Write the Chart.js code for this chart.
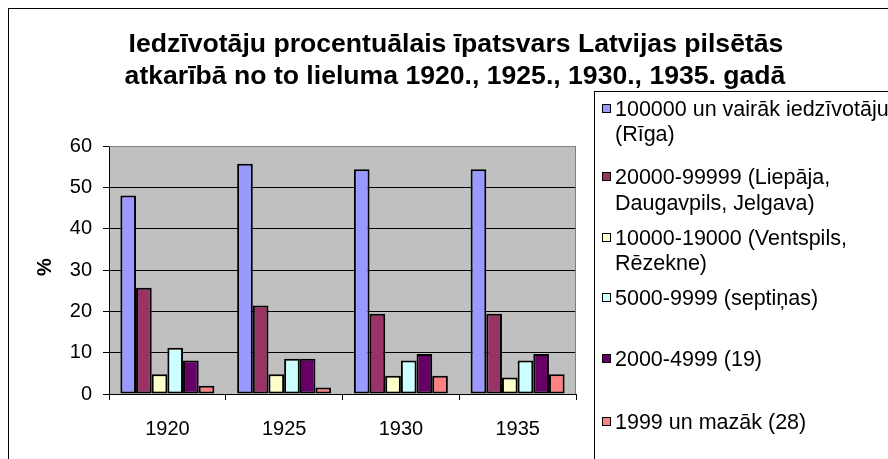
<!DOCTYPE html>
<html>
<head>
<meta charset="utf-8">
<script src="https://cdn.jsdelivr.net/npm/chart.js@4.4.1/dist/chart.umd.min.js"></script>
<style>
  html, body { margin: 0; padding: 0; background: #fff; overflow: hidden; }
  #wrap { width: 888px; height: 459px; position: relative; }
</style>
</head>
<body>
<div id="wrap"><canvas id="c" width="888" height="459"></canvas></div>
<script>
const titleLines = ['Iedzīvotāju procentuālais īpatsvars Latvijas pilsētās',
                    'atkarībā no to lieluma 1920., 1925., 1930., 1935. gadā'];
const yAxisTitle = '%';
const categories = ['1920', '1925', '1930', '1935'];
const yTicks = [0, 10, 20, 30, 40, 50, 60];

const seriesNames = [
  ['100000 un vairāk iedzīvotāju', '(Rīga)'],
  ['20000-99999 (Liepāja,', 'Daugavpils, Jelgava)'],
  ['10000-19000 (Ventspils,', 'Rēzekne)'],
  ['5000-9999 (septiņas)'],
  ['2000-4999 (19)'],
  ['1999 un mazāk (28)']
];
const seriesColors = ['#9999FF', '#993366', '#FFFFCC', '#CCFFFF', '#660066', '#FF8080'];

const rigaValues      = [48.0, 55.7, 54.4, 54.4];
const bigCityValues   = [25.7, 21.4, 19.4, 19.4];
const midCityValues   = [4.8, 4.8, 4.4, 4.0];
const smallCityValues = [11.2, 8.5, 8.1, 8.1];
const townValues      = [8.1, 8.5, 9.7, 9.7];
const tinyTownValues  = [2.0, 1.6, 4.4, 4.8];
const seriesValues = [rigaValues, bigCityValues, midCityValues, smallCityValues, townValues, tinyTownValues];

const FONT = '"Liberation Sans", Arial, sans-serif';
Chart.defaults.font.family = FONT;
Chart.defaults.color = '#000';

const PLOT = { left: 109, right: 576, top: 146, bottom: 394 };
const W = 888, H = 459;

const framePlugin = {
  id: 'frame',
  beforeDraw(chart) {
    const ctx = chart.ctx, a = chart.chartArea;
    ctx.save();
    ctx.fillStyle = '#fff';
    ctx.fillRect(0, 0, W, H);
    ctx.strokeStyle = '#000';
    ctx.lineWidth = 1;
    ctx.strokeRect(8.5, 8.5, W + 20, H + 20);
    ctx.fillStyle = '#C0C0C0';
    ctx.fillRect(a.left, a.top, a.right - a.left, a.bottom - a.top);
    ctx.restore();
  },
  beforeDatasetsDraw(chart) {
    const ctx = chart.ctx, a = chart.chartArea;
    ctx.save();
    ctx.strokeStyle = '#808080';
    ctx.lineWidth = 1;
    ctx.beginPath();
    ctx.moveTo(a.left, Math.round(a.top) + 0.5);
    ctx.lineTo(Math.round(a.right) - 0.5, Math.round(a.top) + 0.5);
    ctx.lineTo(Math.round(a.right) - 0.5, a.bottom);
    ctx.stroke();
    ctx.restore();
  },
  afterDraw(chart) {
    const ctx = chart.ctx;
    ctx.save();
    // title
    ctx.fillStyle = '#000';
    ctx.font = 'bold 26.6px ' + FONT;
    ctx.textAlign = 'center';
    ctx.textBaseline = 'alphabetic';
    ctx.fillText(titleLines[0], 456, 52);
    ctx.fillText(titleLines[1], 455, 84);
    // y axis title
    ctx.save();
    ctx.translate(45, 267);
    ctx.rotate(-Math.PI / 2);
    ctx.font = 'bold 20px ' + FONT;
    ctx.textBaseline = 'middle';
    ctx.fillText(yAxisTitle, 0, 0);
    ctx.restore();
    // legend box
    ctx.fillStyle = '#fff';
    ctx.fillRect(594, 91, W, H);
    ctx.strokeStyle = '#000';
    ctx.lineWidth = 1;
    ctx.strokeRect(594.5, 91.5, W, H);
    const lineCenters = [[108, 133], [176, 202], [237, 262], [297], [358], [421]];
    ctx.font = '21.5px ' + FONT;
    ctx.textAlign = 'left';
    ctx.textBaseline = 'alphabetic';
    seriesNames.forEach((lines, i) => {
      const c0 = lineCenters[i][0];
      ctx.fillStyle = seriesColors[i];
      ctx.fillRect(602, c0 - 4, 9, 9);
      ctx.strokeStyle = '#000';
      ctx.strokeRect(602.5, c0 - 3.5, 8, 8);
      ctx.fillStyle = '#000';
      lines.forEach((t, j) => {
        ctx.fillText(t, 615, lineCenters[i][j] + 7.5);
      });
    });
    ctx.restore();
  }
};

const datasets = seriesValues.map((vals, i) => ({
  label: seriesNames[i].join(' '),
  data: vals,
  backgroundColor: seriesColors[i],
  borderColor: '#000',
  borderWidth: 2,
  borderSkipped: false,
  categoryPercentage: 0.805,
  barPercentage: 1.0
}));

new Chart(document.getElementById('c'), {
  type: 'bar',
  data: { labels: categories, datasets },
  options: {
    responsive: false,
    animation: false,
    devicePixelRatio: 1,
    layout: { padding: { left: 0, top: PLOT.top, right: W - PLOT.right, bottom: 0 } },
    plugins: { legend: { display: false }, title: { display: false }, tooltip: { enabled: false } },
    scales: {
      x: {
        afterFit(scale) { scale.height = H - PLOT.bottom; },
        grid: { display: true, drawOnChartArea: false, drawTicks: true, tickLength: 6, tickColor: '#000', offset: true },
        border: { display: true, color: '#000', width: 1 },
        ticks: { font: { size: 20 }, color: '#000', padding: 17, maxRotation: 0 }
      },
      y: {
        min: 0, max: 60,
        afterFit(scale) { scale.width = PLOT.left; },
        afterBuildTicks(scale) { scale.ticks = yTicks.map(v => ({ value: v })); },
        grid: {
          color: (c) => (c.tick && c.tick.value === 60 ? '#808080' : '#000'),
          lineWidth: 1, drawTicks: true, tickLength: 6, tickColor: '#000'
        },
        border: { display: true, color: '#000', width: 1 },
        ticks: { font: { size: 20 }, color: '#000', padding: 11, stepSize: 10 }
      }
    }
  },
  plugins: [framePlugin]
});
</script>
</body>
</html>
